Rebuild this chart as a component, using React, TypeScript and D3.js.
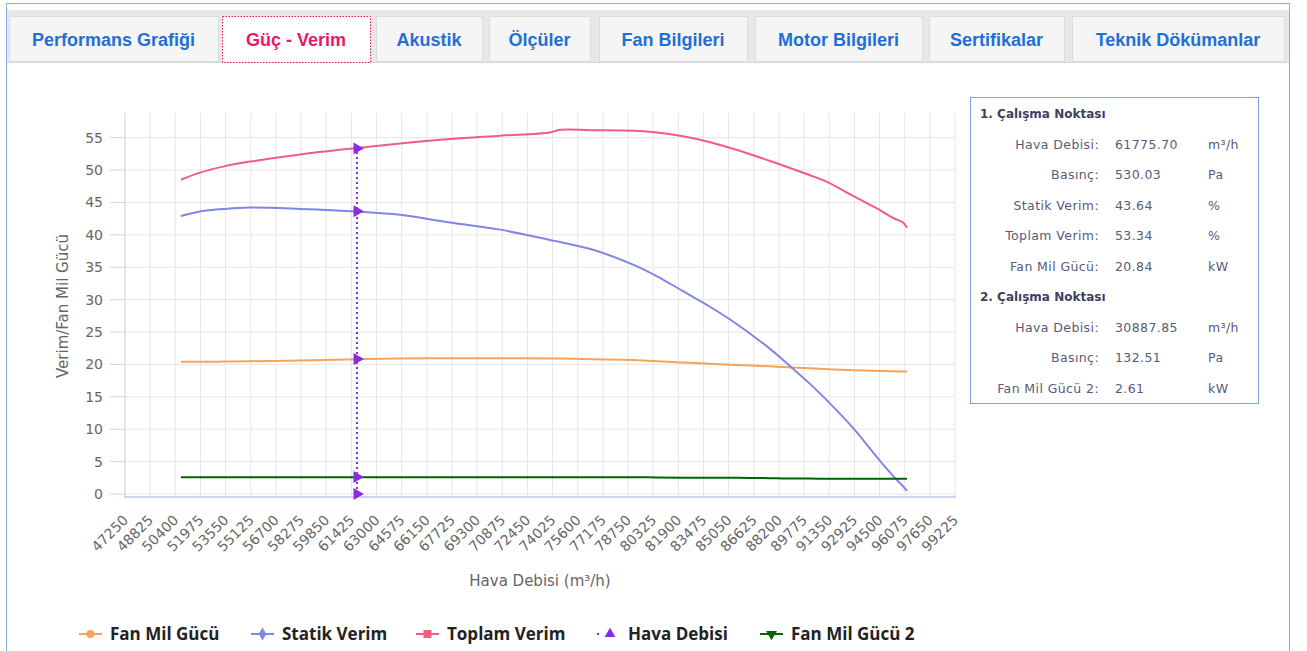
import React from "react";
import * as d3 from "d3";

// air flow (m³/h) for the fan curves
const flow = [
  50757, 51947, 53513, 55078, 58209, 61778, 64471, 67602, 70733, 73864, 74490,
  76556, 79061, 80564, 82192, 83883, 85573, 87640, 88454, 90145, 91272, 92838,
  94528, 95342, 95968, 96219,
];
const fanPower = [
  20.4, 20.4, 20.45, 20.5, 20.6, 20.8, 20.9, 20.95, 20.95, 20.9, 20.9, 20.8,
  20.7, 20.5, 20.3, 20.1, 19.9, 19.7, 19.6, 19.4, 19.25, 19.1, 19.0, 18.95,
  18.9, 18.9,
];
const staticEff = [
  42.9, 43.6, 44.0, 44.2, 44.0, 43.6, 43.1, 41.9, 40.8, 39.2, 38.9, 37.7, 35.4,
  33.6, 31.3, 28.9, 26.2, 22.4, 20.7, 17.0, 14.3, 10.2, 5.1, 2.8, 1.2, 0.5,
];
const totalEff = [
  48.5, 49.6, 50.6, 51.3, 52.4, 53.4, 54.1, 54.8, 55.3, 55.8, 56.2, 56.15,
  56.05, 55.8, 55.2, 54.3, 53.1, 51.4, 50.7, 49.2, 48.1, 46.0, 43.8, 42.6,
  41.9, 41.1,
];
const fanPower2 = [
  2.6, 2.6, 2.6, 2.6, 2.6, 2.6, 2.6, 2.6, 2.6, 2.6, 2.6, 2.6, 2.6, 2.55, 2.5,
  2.5, 2.5, 2.45, 2.4, 2.4, 2.35, 2.35, 2.35, 2.35, 2.35, 2.35,
];

// operating point
const opFlow = 61775.7;
const opValues = [0, 2.61, 20.84, 43.64, 53.34];

const xTicks = [
  47250, 48825, 50400, 51975, 53550, 55125, 56700, 58275, 59850, 61425, 63000,
  64575, 66150, 67725, 69300, 70875, 72450, 74025, 75600, 77175, 78750, 80325,
  81900, 83475, 85050, 86625, 88200, 89775, 91350, 92925, 94500, 96075, 97650,
  99225,
];
const yTicks = [0, 5, 10, 15, 20, 25, 30, 35, 40, 45, 50, 55];

const tabs = [
  "Performans Grafiği",
  "Güç - Verim",
  "Akustik",
  "Ölçüler",
  "Fan Bilgileri",
  "Motor Bilgileri",
  "Sertifikalar",
  "Teknik Dökümanlar",
];
const activeTab = 1;
const tabEdges = [
  [9, 218], [222, 370], [376, 482], [489, 590], [599, 747], [755, 922],
  [929, 1064], [1072, 1284],
];

const point1 = [
  ["Hava Debisi:", "61775.70", "m³/h"],
  ["Basınç:", "530.03", "Pa"],
  ["Statik Verim:", "43.64", "%"],
  ["Toplam Verim:", "53.34", "%"],
  ["Fan Mil Gücü:", "20.84", "kW"],
];
const point2 = [
  ["Hava Debisi:", "30887.85", "m³/h"],
  ["Basınç:", "132.51", "Pa"],
  ["Fan Mil Gücü 2:", "2.61", "kW"],
];

const ORANGE = "#f7a35c";
const BLUE = "#8085e9";
const RED = "#f15c80";
const PURPLE = "#8a2be2";
const GREEN = "#006400";

const FONT = "'DejaVu Sans', Verdana, sans-serif";

export default function App() {
  const x = d3.scaleLinear().domain([47250, 99225]).range([125, 955]);
  const y = d3.scaleLinear().domain([-0.46, 58.8]).range([497, 113]);

  const line = (vals: number[]) =>
    d3
      .line<number>()
      .x((_, i) => x(flow[i]))
      .y((d) => y(d))
      .curve(d3.curveCatmullRom.alpha(0.5))(vals) || "";

  const series = [
    { name: "Fan Mil Gücü", color: ORANGE, vals: fanPower },
    { name: "Statik Verim", color: BLUE, vals: staticEff },
    { name: "Toplam Verim", color: RED, vals: totalEff },
  ];

  const legend = [
    { name: "Fan Mil Gücü", color: ORANGE, lx: 79, sym: d3.symbolCircle, rot: 0, dotted: false },
    { name: "Statik Verim", color: BLUE, lx: 251, sym: d3.symbolDiamond, rot: 0, dotted: false },
    { name: "Toplam Verim", color: RED, lx: 416, sym: d3.symbolSquare, rot: 0, dotted: false },
    { name: "Hava Debisi", color: PURPLE, lx: 597, sym: d3.symbolTriangle, rot: 0, dotted: true },
    { name: "Fan Mil Gücü 2", color: GREEN, lx: 760, sym: d3.symbolTriangle, rot: 180, dotted: false },
  ];

  const tri = d3.symbol().type(d3.symbolTriangle).size(62)() || "";

  return (
    <svg
      width={1307}
      height={651}
      style={{ position: "absolute", left: 0, top: 0, background: "#fff" }}
    >
      {/* panel frame and tab strip */}
      <rect x={6.5} y={3.5} width={1283} height={660} fill="#fff" stroke="#85aee3" />
      <rect x={7} y={10} width={1282} height={52} fill="#e8e8e8" />
      <line x1={7} x2={1289} y1={62.5} y2={62.5} stroke="#d6d6d6" />
      {tabs.map((t, i) => {
        const [a, b] = tabEdges[i];
        const active = i === activeTab;
        return (
          <g key={t}>
            <rect
              x={a + 0.5}
              y={16.5}
              width={b - a}
              height={active ? 46 : 45}
              fill={active ? "#fff" : "#f5f5f5"}
              stroke={active ? "#e8186d" : "#dcdcdc"}
              strokeDasharray={active ? "1.5,1.5" : undefined}
            />
            <text
              x={(a + b) / 2}
              y={46}
              textAnchor="middle"
              fontFamily="'Liberation Sans', Arial, sans-serif"
              fontWeight="bold"
              fontSize={18}
              fill={active ? "#e8186d" : "#1f6fd8"}
            >
              {t}
            </text>
          </g>
        );
      })}

      {/* grid */}
      {xTicks.map((t) => (
        <line key={"gx" + t} x1={x(t)} x2={x(t)} y1={113} y2={497} stroke="#e6e6e6" />
      ))}
      {yTicks.map((t) => (
        <g key={"gy" + t}>
          <line x1={125} x2={955} y1={y(t)} y2={y(t)} stroke="#e6e6e6" />
          <line x1={110} x2={125} y1={y(t)} y2={y(t)} stroke="#ccd6eb" />
          <text
            x={103}
            y={y(t)}
            dy="0.35em"
            textAnchor="end"
            fontFamily={FONT}
            fontSize={14}
            fill="#666"
          >
            {t}
          </text>
        </g>
      ))}
      <line x1={125} x2={125} y1={113} y2={497} stroke="#ccd6eb" />
      <line x1={124} x2={956} y1={497} y2={497} stroke="#ccd6eb" strokeWidth={2} />

      {xTicks.map((t) => (
        <text
          key={"xl" + t}
          transform={`translate(${x(t) + 4},521) rotate(-45)`}
          textAnchor="end"
          fontFamily={FONT}
          fontSize={14}
          fill="#666"
        >
          {t}
        </text>
      ))}

      <text
        x={540}
        y={586}
        textAnchor="middle"
        fontFamily={FONT}
        fontSize={15}
        fill="#666"
      >
        Hava Debisi (m³/h)
      </text>
      <text
        transform={`translate(68,306) rotate(-90)`}
        textAnchor="middle"
        fontFamily={FONT}
        fontSize={15}
        fill="#666"
      >
        Verim/Fan Mil Gücü
      </text>

      {/* curves */}
      {series.map((s) => (
        <path key={s.name} d={line(s.vals)} fill="none" stroke={s.color} strokeWidth={2} />
      ))}
      <path d={line(fanPower2)} fill="none" stroke={GREEN} strokeWidth={2} />

      {/* operating point */}
      <line
        x1={x(opFlow)}
        x2={x(opFlow)}
        y1={y(opValues[0])}
        y2={y(opValues[opValues.length - 1])}
        stroke={PURPLE}
        strokeWidth={2}
        strokeDasharray="2,3"
      />
      {opValues.map((v) => (
        <path
          key={"op" + v}
          d={tri}
          transform={`translate(${x(opFlow)},${y(v)}) rotate(90)`}
          fill={PURPLE}
        />
      ))}

      {/* info box */}
      <rect x={970.5} y={97.5} width={288} height={306} fill="#fff" stroke="#7ea2d6" />
      {[
        { title: "1. Çalışma Noktası", rows: point1, top: 114 },
        { title: "2. Çalışma Noktası", rows: point2, top: 297 },
      ].map((blk) => (
        <g key={blk.title} fontFamily={FONT}>
          <text
            x={980}
            y={blk.top}
            dy="0.35em"
            fontSize={12}
            fontWeight="bold"
            fill="#3f3f5f"
          >
            {blk.title}
          </text>
          {blk.rows.map((r, i) => (
            <g key={r[0]} fontSize={12.5} fill="#5a5a76" letterSpacing={0.4}>
              <text x={1099} y={blk.top + 30.5 * (i + 1)} dy="0.35em" textAnchor="end">
                {r[0]}
              </text>
              <text x={1115} y={blk.top + 30.5 * (i + 1)} dy="0.35em">
                {r[1]}
              </text>
              <text x={1208} y={blk.top + 30.5 * (i + 1)} dy="0.35em">
                {r[2]}
              </text>
            </g>
          ))}
        </g>
      ))}

      {/* legend */}
      {legend.map((l) => (
        <g key={l.name} transform={`translate(${l.lx},634)`}>
          <line
            x1={0}
            x2={l.dotted ? 5 : 23}
            y1={0}
            y2={0}
            stroke={l.color}
            strokeWidth={2}
            strokeDasharray={l.dotted ? "2,3" : undefined}
          />
          <path
            d={d3.symbol().type(l.sym).size(l.sym === d3.symbolSquare ? 64 : 50)() || ""}
            transform={`translate(${l.dotted ? 13 : 11.5},0) rotate(${l.rot})`}
            fill={l.color}
          />
          <text
            x={31}
            y={0}
            dy="0.35em"
            fontFamily="'Open Sans', sans-serif"
            fontWeight="bold"
            fontSize={17}
            fill="#222"
          >
            {l.name}
          </text>
        </g>
      ))}
    </svg>
  );
}
